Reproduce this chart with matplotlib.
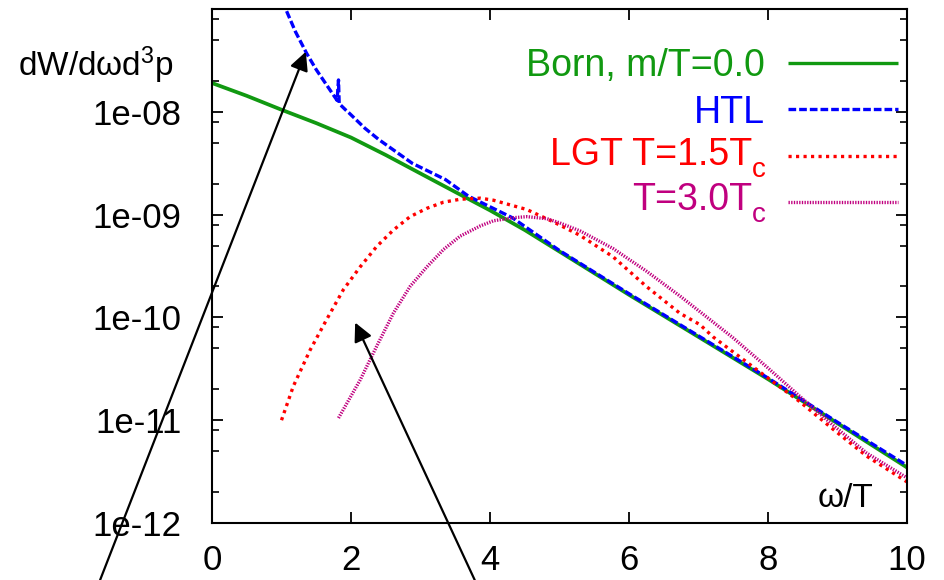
import matplotlib
matplotlib.use("Agg")
import matplotlib.pyplot as plt
from matplotlib.lines import Line2D
from matplotlib.ticker import FixedLocator, NullFormatter

plt.rcParams['font.family'] = ['Liberation Sans', 'DejaVu Sans']
plt.rcParams['mathtext.fontset'] = 'custom'
plt.rcParams['mathtext.rm'] = 'Liberation Sans'
plt.rcParams['mathtext.it'] = 'Liberation Sans'

# ---------------- data ----------------
born_x = [0, 0.5, 1, 1.5, 2, 2.5, 3, 3.5, 4, 4.5, 5, 6, 7, 8, 9, 10]
born_y = [1.905e-8, 1.43e-8, 1.047e-8, 7.76e-9, 5.62e-9, 3.80e-9, 2.51e-9, 1.66e-9,
          1.10e-9, 7.08e-10, 4.37e-10, 1.66e-10, 6.46e-11, 2.51e-11, 9.33e-12, 3.47e-12]

htl_x = [1.0, 1.06, 1.2, 1.36, 1.5, 1.65, 1.80, 1.82, 1.83, 1.92, 1.97, 2.2, 2.4, 2.88,
         3.36, 3.69, 4.32, 5, 6, 7, 8, 9, 10]
htl_y = [1.175e-7, 1.0e-7, 6.03e-8, 3.72e-8, 2.57e-8, 1.82e-8, 1.29e-8, 2.04e-8, 1.20e-8,
         1.047e-8, 9.77e-9, 6.92e-9, 5.37e-9, 3.16e-9, 2.19e-9, 1.51e-9, 9.33e-10,
         4.47e-10, 1.70e-10, 6.61e-11, 2.57e-11, 9.55e-12, 3.63e-12]

lgt15_x = [1.0, 1.17, 1.41, 1.65, 1.89, 2.13, 2.37, 2.61, 2.85, 3.09, 3.33, 3.57, 3.86,
           4.05, 4.53, 4.91, 5.29, 5.77, 6.25, 6.73, 7.02, 7.21, 7.98, 8.46, 8.94, 9.42, 10]
lgt15_y = [1.0e-11, 2.14e-11, 4.79e-11, 9.55e-11, 1.86e-10, 3.09e-10, 4.90e-10, 7.08e-10,
           9.55e-10, 1.15e-9, 1.32e-9, 1.41e-9, 1.445e-9, 1.38e-9, 1.12e-9, 8.51e-10,
           6.31e-10, 3.89e-10, 2.0e-10, 1.10e-10, 8.51e-11, 6.46e-11, 2.63e-11, 1.51e-11,
           8.13e-12, 4.47e-12, 2.51e-12]

lgt30_x = [1.82, 2.13, 2.37, 2.61, 2.85, 3.09, 3.33, 3.57, 3.86, 4.05, 4.34, 4.53, 4.82,
           5.0, 5.3, 5.77, 6.25, 6.73, 7.2, 7.5, 7.98, 8.46, 8.94, 9.42, 10]
lgt30_y = [1.05e-11, 2.45e-11, 5.25e-11, 1.10e-10, 2.0e-10, 3.09e-10, 4.57e-10, 6.17e-10,
           7.76e-10, 8.71e-10, 9.33e-10, 9.55e-10, 9.12e-10, 8.32e-10, 6.92e-10, 4.68e-10,
           2.82e-10, 1.62e-10, 9.12e-11, 6.31e-11, 3.31e-11, 1.70e-11, 8.91e-12, 4.79e-12,
           2.75e-12]

# legend labels: (main text, subscript)
series_labels = [('Born, m/T=0.0', ''), ('HTL', ''), ('LGT T=1.5T', 'c'), ('T=3.0T', 'c')]

x_ticks = [0, 2, 4, 6, 8, 10]
y_ticks = [1e-12, 1e-11, 1e-10, 1e-9, 1e-8]
y_ticklabels = ['1e-12', '1e-11', '1e-10', '1e-09', '1e-08']
y_minor = [m * 10.0 ** e for e in range(-12, -7) for m in (2, 5, 8)]

# arrows (tail, head) in data coords
arrow1 = ((-1.61, 2.79e-13), (1.35, 3.84e-8))
arrow2 = ((3.78, 2.79e-13), (2.06, 8.9e-11))

# ---------------- style ----------------
c_born = '#119911'
c_htl = '#0000ff'
c_lgt15 = '#ff0000'
c_lgt30 = '#c0007f'
lw = 2.4
st_born = dict(solid_capstyle='butt')
st_htl = dict(dashes=(2.3, 0.9), dash_capstyle='butt')
st_15 = dict(dashes=(0.95, 1.3), dash_capstyle='butt')
st_30 = dict(dashes=(0.4, 0.4), dash_capstyle='butt')

fig = plt.figure(figsize=(9.44, 5.8), dpi=100)
ax = fig.add_axes([212 / 944, 1 - 523 / 580, 695 / 944, 514 / 580])

ax.plot(born_x, born_y, color=c_born, lw=lw + 0.3, **st_born)
ax.plot(htl_x, htl_y, color=c_htl, lw=lw, **st_htl)
ax.plot(lgt15_x, lgt15_y, color=c_lgt15, lw=lw, **st_15)
ax.plot(lgt30_x, lgt30_y, color=c_lgt30, lw=lw, **st_30)

ax.set_yscale('log')
ax.set_xlim(0, 10)
ax.set_ylim(1e-12, 1e-7)

ax.xaxis.set_major_locator(FixedLocator(x_ticks))
ax.set_xticklabels([str(t) for t in x_ticks])
ax.yaxis.set_major_locator(FixedLocator(y_ticks))
ax.set_yticklabels(y_ticklabels)
ax.yaxis.set_minor_locator(FixedLocator(y_minor))
ax.yaxis.set_minor_formatter(NullFormatter())
ax.xaxis.set_minor_locator(FixedLocator([]))

ax.tick_params(axis='both', which='major', direction='in', length=8, width=1.3,
               top=True, right=True, labelsize=25)
ax.tick_params(axis='y', which='major', pad=22)
ax.tick_params(axis='x', which='major', pad=15)
ax.tick_params(axis='y', which='minor', direction='in', length=5, width=1.2,
               left=True, right=True)
for s in ax.spines.values():
    s.set_linewidth(1.5)

# axis labels
fig.text(18 / 944, 1 - 76 / 580, 'dW/d\u03c9d$^\\mathregular{3}$p', fontsize=24,
         ha='left', va='baseline')
fig.text(873 / 944, 1 - 507 / 580, '\u03c9/T', fontsize=24, ha='right', va='baseline')

# legend drawn manually
leg_rows = [76, 122.5, 165, 210]
leg_liney = [63, 109, 156, 202]
colors = [c_born, c_htl, c_lgt15, c_lgt30]
styles = [st_born, st_htl, st_15, st_30]
for (lab, sub), col, yb, yl, st in zip(series_labels, colors, leg_rows, leg_liney, styles):
    if sub:
        fig.text(752 / 944, 1 - yb / 580, lab, color=col, fontsize=27, ha='right',
                 va='baseline')
        fig.text(752 / 944, 1 - (yb + 12) / 580, sub, color=col, fontsize=20,
                 ha='left', va='baseline')
    else:
        fig.text(765 / 944, 1 - yb / 580, lab, color=col, fontsize=27, ha='right',
                 va='baseline')
    fig.add_artist(Line2D([788 / 944, 898 / 944], [1 - yl / 580, 1 - yl / 580],
                          transform=fig.transFigure, color=col, lw=lw, **st))

for (tail, head) in (arrow1, arrow2):
    ax.annotate('', xy=head, xytext=tail, xycoords='data', textcoords='data',
                annotation_clip=False,
                arrowprops=dict(arrowstyle='-|>', color='black', lw=1.6,
                                mutation_scale=28, shrinkA=0, shrinkB=0))

fig.savefig('out.png', dpi=100)
